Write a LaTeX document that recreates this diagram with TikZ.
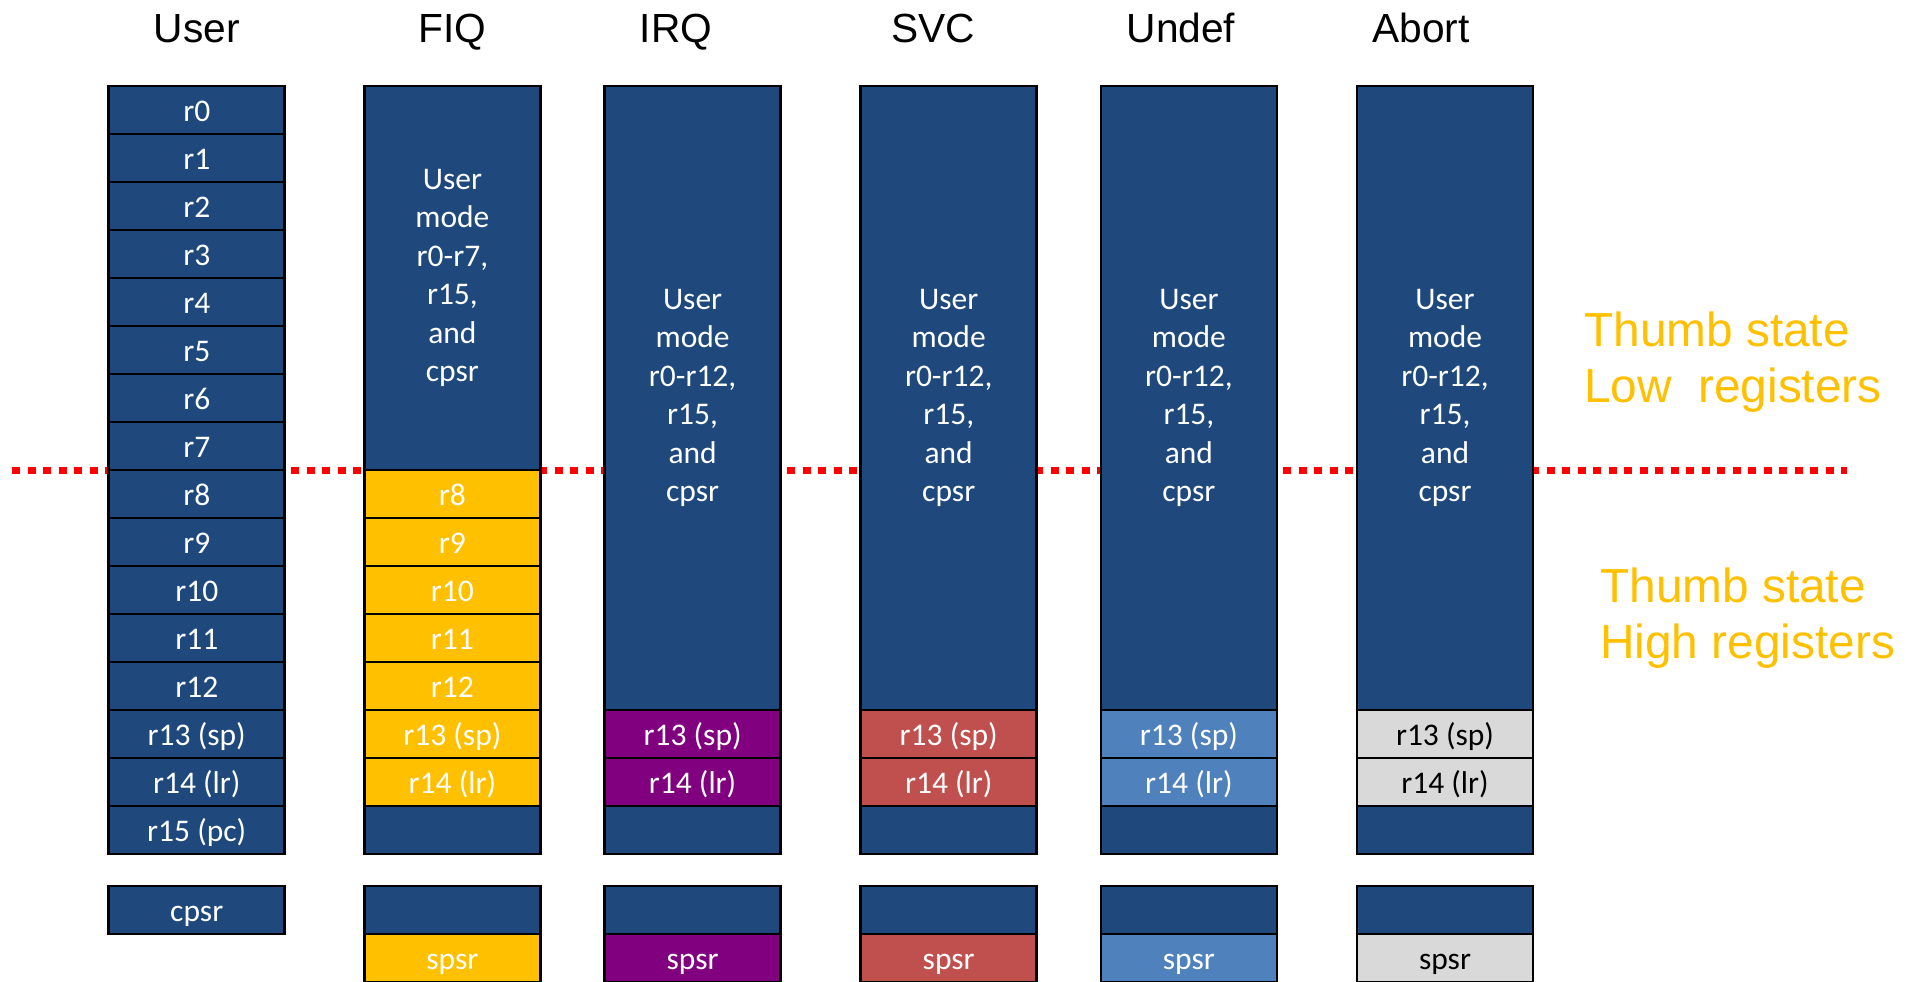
\documentclass[tikz,border=0pt]{standalone}
\usepackage{fontspec}
\setmainfont{Liberation Sans}
\newfontfamily\calibri{Carlito}

\definecolor{regblue}{RGB}{31,73,125}
\definecolor{fiqyellow}{RGB}{255,192,0}
\definecolor{irqpurple}{RGB}{128,0,128}
\definecolor{svcred}{RGB}{192,80,77}
\definecolor{undblue}{RGB}{79,129,189}
\definecolor{abtgray}{RGB}{217,217,217}

\tikzset{
  regbox/.style={draw=black,line width=2.6pt,fill=regblue,minimum width=176pt,
    inner sep=0pt,text=white,font=\calibri\fontsize{31.5}{38.5}\selectfont},
  reg/.style={regbox,minimum height=48pt,text height=23.4pt,text depth=0pt},
  bank/.style={regbox,align=center},
  modehead/.style={anchor=base,font=\fontsize{40.7}{48}\selectfont},
  thumbnote/.style={anchor=base west,align=left,text=fiqyellow,inner sep=0pt,
    font=\fontsize{47.8}{56}\selectfont},
  thumbline/.style={red,line width=7pt,dash pattern=on 8pt off 7.5pt}
}

\begin{document}
\begin{tikzpicture}[x=1pt,y=-1pt]
  \useasboundingbox (0,0) rectangle (1912,982);
  % low / high register boundary
  \coordinate (tl) at (12,470);
  \coordinate (tr) at (1847,470);
  \draw[thumbline] (tl) -- (tr);

  \foreach \name/\cx in {User/196.75,FIQ/452.4,IRQ/676,SVC/933,Undef/1181,Abort/1421}
    \node[modehead] (h\name) at (\cx,43) {\name};

  % user mode
  \foreach \i/\lbl in {0/r0,1/r1,2/r2,3/r3,4/r4,5/r5,6/r6,7/r7,8/r8,9/r9,10/r10,11/r11,12/r12,13/{r13 (sp)},14/{r14 (lr)},15/{r15 (pc)}}
    \node[reg] (usr\i) at (196.75,110+48*\i) {\lbl};
  \node[reg] (usrcpsr) at (196.75,910) {cpsr};

  % fiq mode
  \node[bank,minimum height=384pt] (fiqbank) at (452.4,278) {User\\mode\\r0-r7,\\r15,\\and\\cpsr};
  \foreach \i/\lbl in {8/r8,9/r9,10/r10,11/r11,12/r12,13/{r13 (sp)},14/{r14 (lr)}}
    \node[reg,fill=fiqyellow] (fiq\i) at (452.4,110+48*\i) {\lbl};
  \node[reg] (fiq15) at (452.4,830) {};
  \node[reg] (fiqcpsr) at (452.4,910) {};
  \node[reg,fill=fiqyellow] (fiqspsr) at (452.4,958) {spsr};

  % irq, svc, undef, abort
  \foreach \m/\cx/\col/\txt in {irq/692.6/irqpurple/white,svc/948.7/svcred/white,und/1188.9/undblue/white,abt/1445/abtgray/black}{
    \node[bank,minimum height=624pt] (\m bank) at (\cx,398) {User\\mode\\r0-r12,\\r15,\\and\\cpsr};
    \node[reg,fill=\col,text=\txt] (\m13) at (\cx,734) {r13 (sp)};
    \node[reg,fill=\col,text=\txt] (\m14) at (\cx,782) {r14 (lr)};
    \node[reg] (\m15) at (\cx,830) {};
    \node[reg] (\m cpsr) at (\cx,910) {};
    \node[reg,fill=\col,text=\txt] (\m spsr) at (\cx,958) {spsr};
  }

  \node[thumbnote] (lowregs) at (1584,402) {Thumb state\\Low\ \ registers};
  \node[thumbnote] (highregs) at (1600,658) {Thumb state\\High registers};
\end{tikzpicture}
\end{document}
